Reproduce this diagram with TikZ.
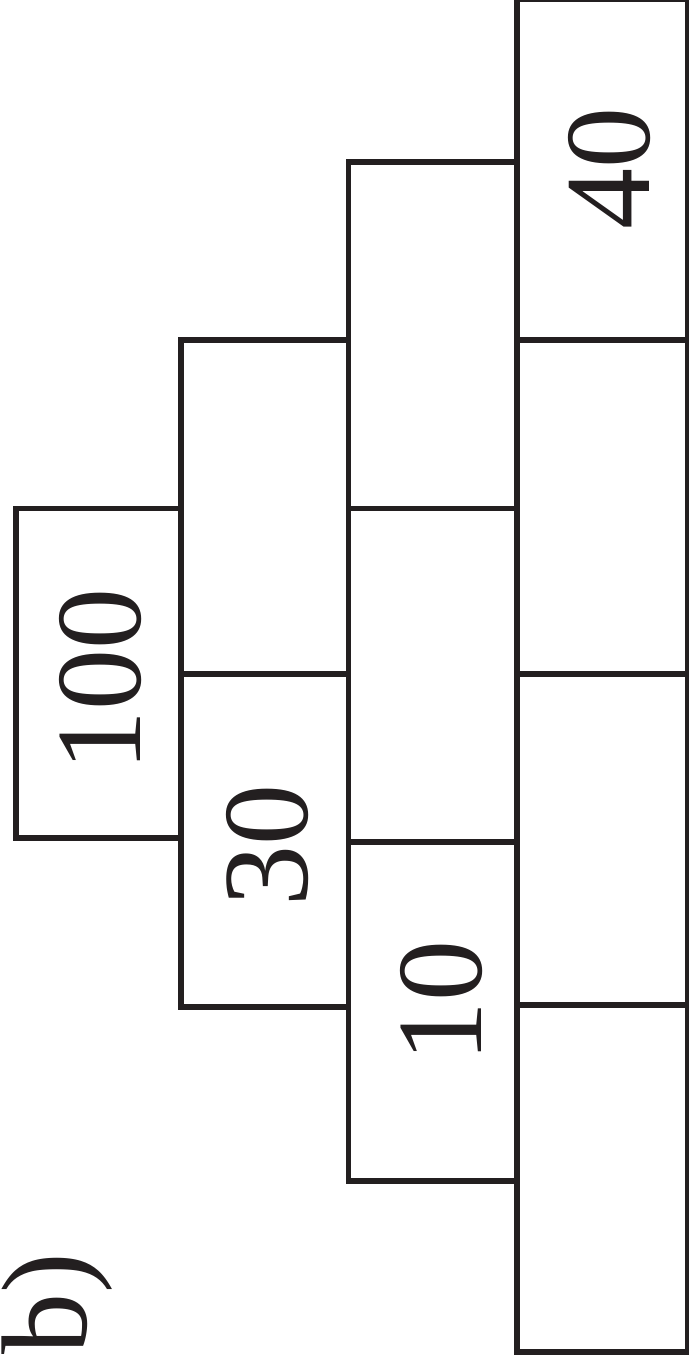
\documentclass[tikz,border=0pt]{standalone}
\usepackage{fontspec}
\setmainfont{Liberation Serif}
\definecolor{ink}{HTML}{231F20}
\begin{document}
\begin{tikzpicture}[x=1pt,y=-1pt,
  cell/.style={draw=ink, line width=5.5pt},
  num/.style={rotate=90, inner sep=0pt, text=ink, font=\fontsize{122}{122}\selectfont}]
\useasboundingbox (0,0) rectangle (688,1364);
% column 1
\draw[cell] (16,508.5) rectangle (181,838);
% column 2
\draw[cell] (181,340) rectangle (348.5,674);
\draw[cell] (181,674) rectangle (348.5,1007);
% column 3
\draw[cell] (348.5,162) rectangle (517,508.5);
\draw[cell] (348.5,508.5) rectangle (517,842);
\draw[cell] (348.5,842) rectangle (517,1181);
% column 4
\draw[cell] (517,-1) rectangle (687.5,340);
\draw[cell] (517,340) rectangle (687.5,674);
\draw[cell] (517,674) rectangle (687.5,1005);
\draw[cell] (517,1005) rectangle (687.5,1352);
% numbers
\node[num] (n100) at (101,680) {100};
\node[num] (n30) at (268,845) {30};
\node[num] (n10) at (442,1001) {10};
\node[num] (n40) at (610,169) {40};
% label
\node[num, anchor=base west] (lab) at (86,1355) {b)};
\end{tikzpicture}
\end{document}
